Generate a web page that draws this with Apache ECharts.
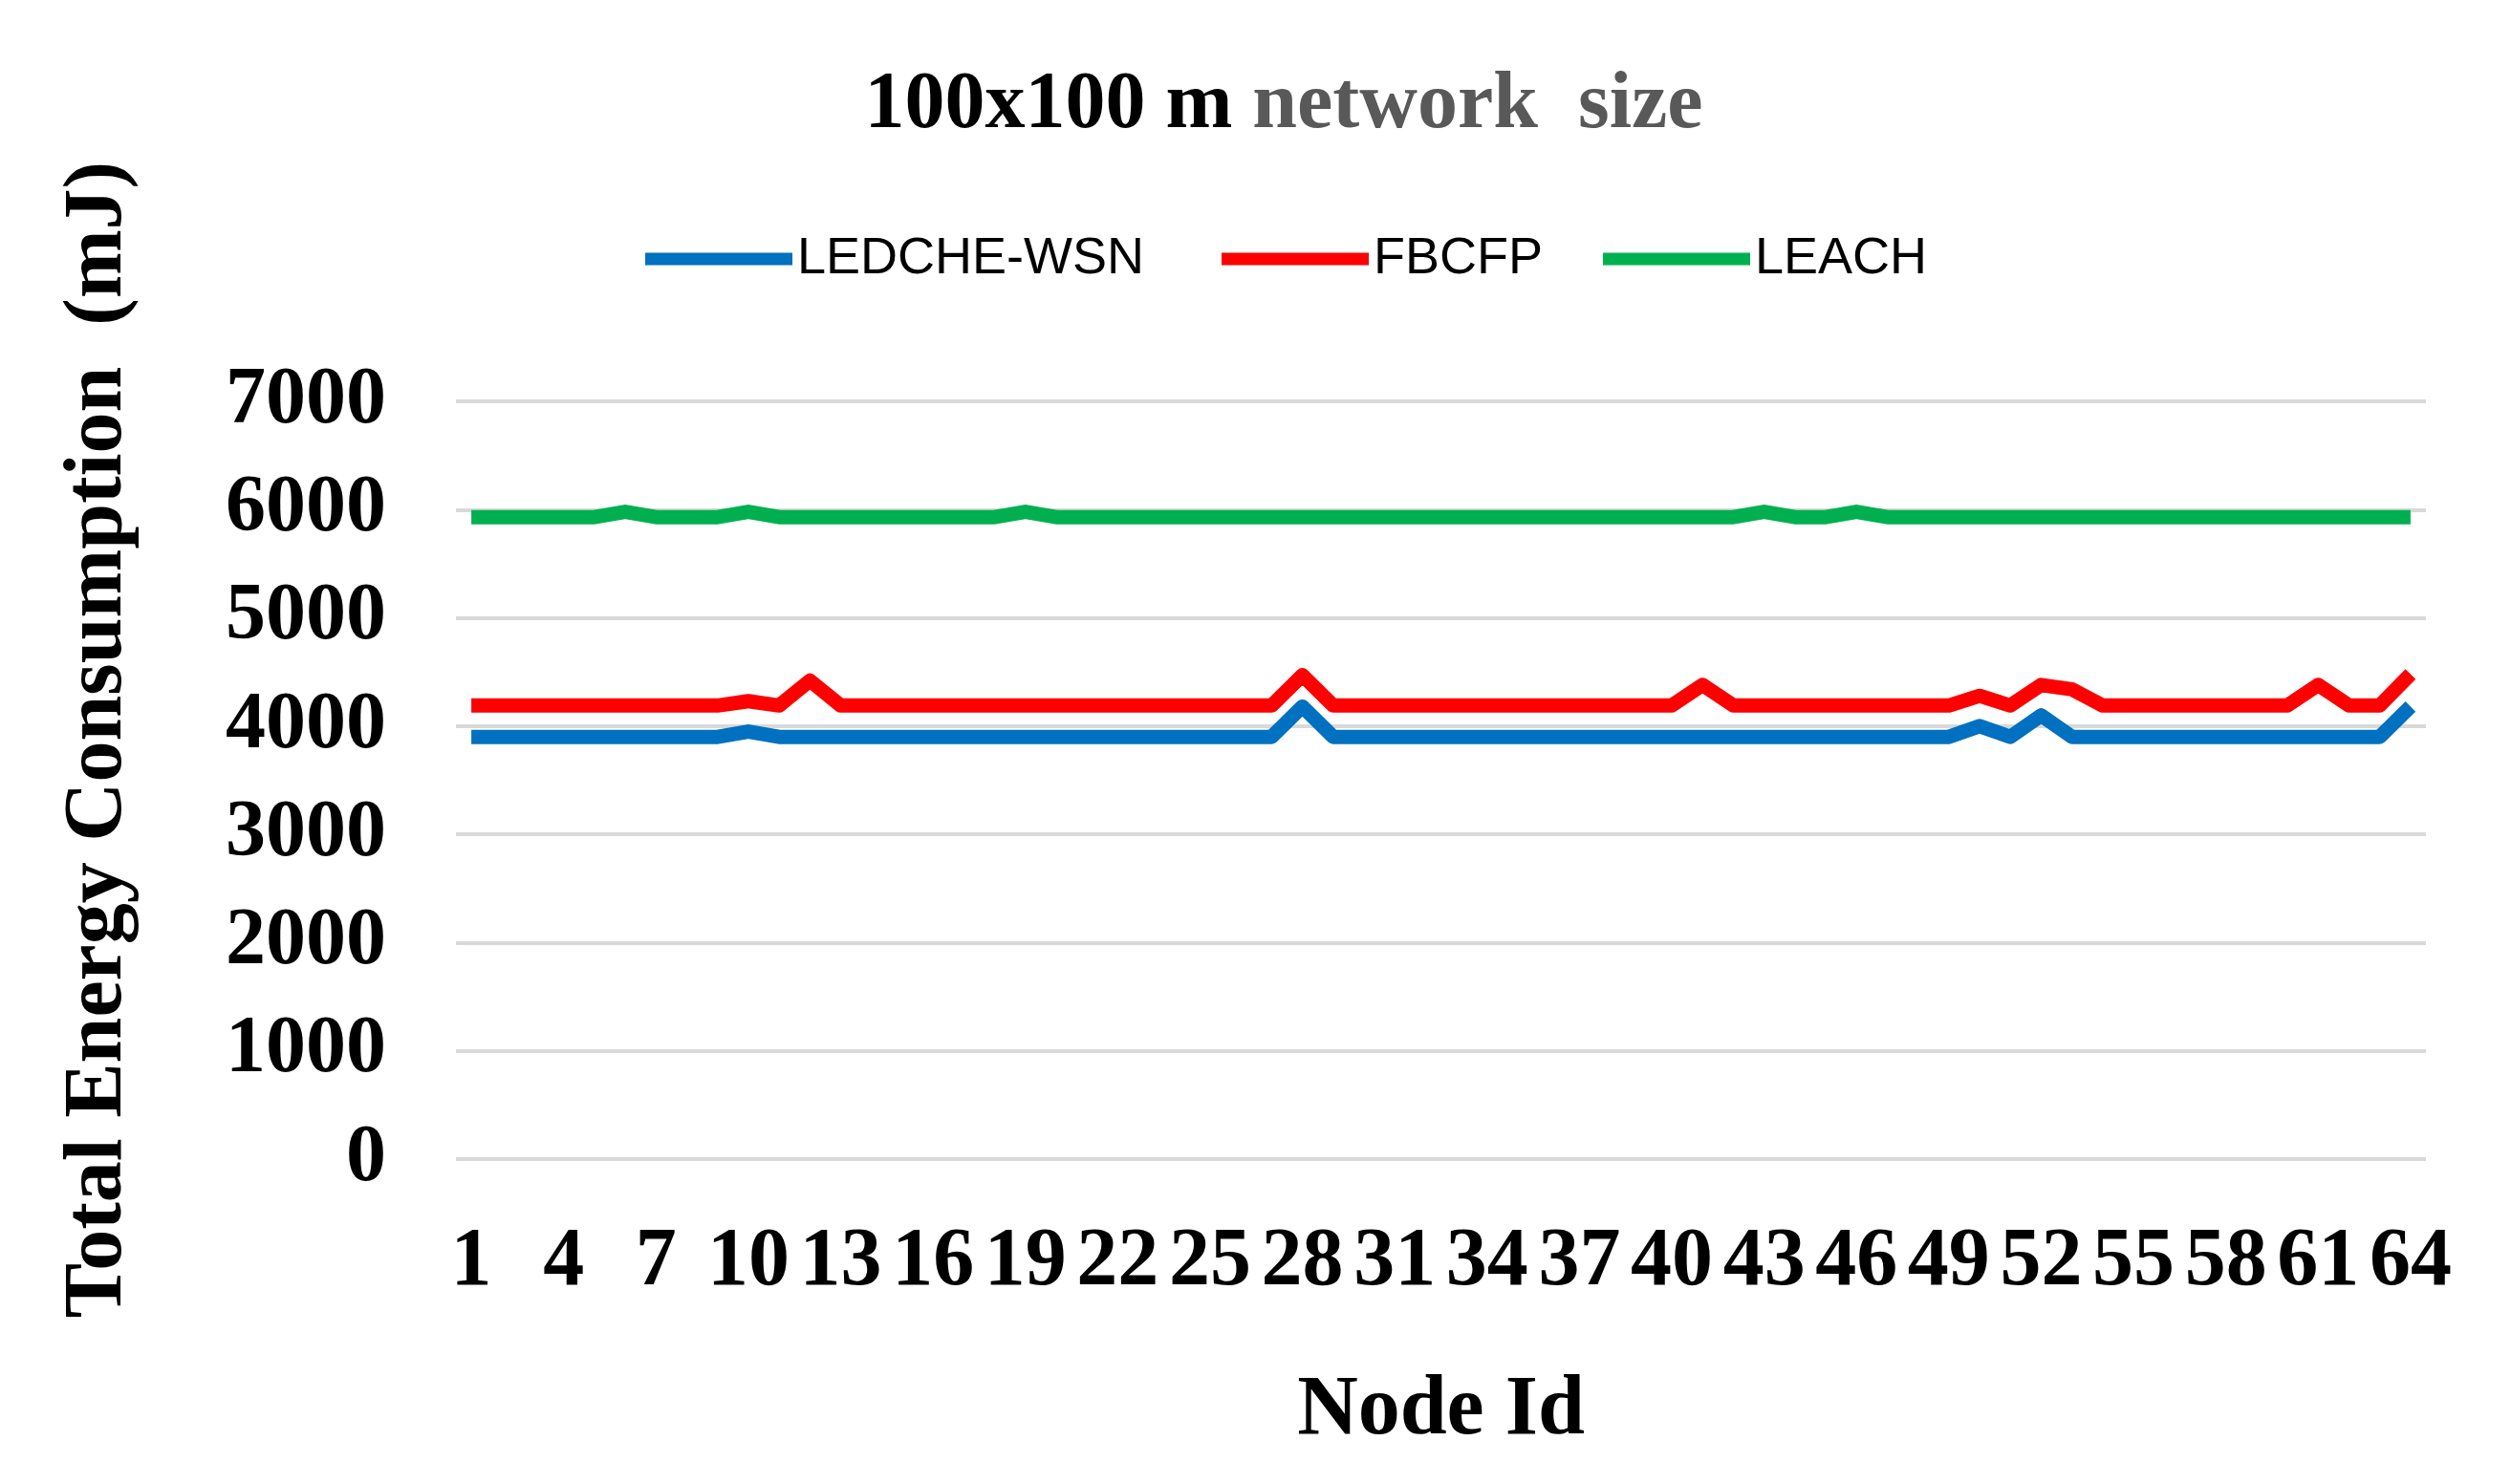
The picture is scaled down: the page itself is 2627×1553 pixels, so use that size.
<!DOCTYPE html>
<html>
<head>
<meta charset="utf-8">
<script src="https://cdn.jsdelivr.net/npm/echarts@6/dist/echarts.min.js"></script>
<style>
html,body{margin:0;padding:0;background:#fff;}
#chart{width:2627px;height:1553px;}
</style>
</head>
<body>
<div id="chart"></div>
<script>
// Node ids 1..64
const categories = [];
for (let i = 1; i <= 64; i++) categories.push(String(i));

const ledcheWsn = [
  3900,3900,3900,3900,3900,3900,3900,3900,3900,3950,
  3900,3900,3900,3900,3900,3900,3900,3900,3900,3900,
  3900,3900,3900,3900,3900,3900,3900,4180,3900,3900,
  3900,3900,3900,3900,3900,3900,3900,3900,3900,3900,
  3900,3900,3900,3900,3900,3900,3900,3900,3900,4000,
  3900,4100,3900,3900,3900,3900,3900,3900,3900,3900,
  3900,3900,3900,4180
];
const fbcfp = [
  4190,4190,4190,4190,4190,4190,4190,4190,4190,4230,
  4190,4420,4190,4190,4190,4190,4190,4190,4190,4190,
  4190,4190,4190,4190,4190,4190,4190,4470,4190,4190,
  4190,4190,4190,4190,4190,4190,4190,4190,4190,4190,
  4380,4190,4190,4190,4190,4190,4190,4190,4190,4280,
  4190,4380,4340,4190,4190,4190,4190,4190,4190,4190,
  4380,4190,4190,4480
];
const leach = [
  5930,5930,5930,5930,5930,5980,5930,5930,5930,5980,
  5930,5930,5930,5930,5930,5930,5930,5930,5980,5930,
  5930,5930,5930,5930,5930,5930,5930,5930,5930,5930,
  5930,5930,5930,5930,5930,5930,5930,5930,5930,5930,
  5930,5930,5980,5930,5930,5980,5930,5930,5930,5930,
  5930,5930,5930,5930,5930,5930,5930,5930,5930,5930,
  5930,5930,5930,5930
];
const seriesNames = ['LEDCHE-WSN', 'FBCFP', 'LEACH'];
const seriesColors = ['#0070C0', '#FF0000', '#00B050'];
const yTicks = [0, 1000, 2000, 3000, 4000, 5000, 6000, 7000];

const serif = "'Liberation Serif','Times New Roman',serif";
const chart = echarts.init(document.getElementById('chart'));

const legendLefts = [670, 1273, 1672];
const legendText = {
  fontFamily: "'Liberation Sans',Arial,sans-serif",
  fontSize: 54,
  color: '#000000'
};

const seriesData = [ledcheWsn, fbcfp, leach];
chart.setOption({
  animation: false,
  backgroundColor: '#ffffff',
  title: {
    left: 1338,
    top: 64,
    textAlign: 'center',
    text: '{a|100x100 m}{b| network  size}',
    textStyle: {
      rich: {
        a: { fontFamily: serif, fontWeight: 'bold', fontSize: 84, color: '#000000' },
        b: { fontFamily: serif, fontWeight: 'bold', fontSize: 84, color: '#595959' }
      }
    }
  },
  legend: seriesNames.map(function (name, i) {
    return {
      left: legendLefts[i],
      top: 271 - 32,
      itemWidth: 154,
      itemHeight: 13,
      icon: 'rect',
      data: [name],
      textStyle: legendText
    };
  }),
  grid: { left: 477, right: 89, top: 420, bottom: 340, containLabel: false },
  xAxis: {
    type: 'category',
    data: categories,
    boundaryGap: true,
    axisLine: { show: false },
    axisTick: { show: false },
    axisLabel: {
      interval: 2,
      margin: 66,
      fontFamily: serif,
      fontWeight: 'bold',
      fontSize: 86,
      lineHeight: 86,
      color: '#000000'
    },
    name: 'Node Id',
    nameLocation: 'middle',
    nameGap: 264,
    nameTextStyle: {
      fontFamily: serif,
      fontWeight: 'bold',
      fontSize: 88,
      color: '#000000',
      verticalAlign: 'middle'
    }
  },
  yAxis: {
    type: 'value',
    min: 0,
    max: 7000,
    interval: 1000,
    axisLine: { show: false },
    axisTick: { show: false },
    splitLine: { lineStyle: { color: '#d9d9d9', width: 4 } },
    axisLabel: {
      margin: 73,
      fontFamily: serif,
      fontWeight: 'bold',
      fontSize: 84,
      color: '#000000',
      formatter: function (v) { return yTicks.indexOf(v) >= 0 ? String(v) : ''; }
    }
  },
  graphic: [{
    type: 'text',
    x: 104,
    y: 774,
    rotation: Math.PI / 2,
    style: {
      text: 'Total Energy Consumption  (mJ)',
      font: "bold 86px 'Liberation Serif','Times New Roman',serif",
      fill: '#000000',
      align: 'center',
      verticalAlign: 'middle',
      textAlign: 'center',
      textVerticalAlign: 'middle'
    }
  }],
  series: seriesNames.map(function (name, i) {
    return {
      name: name,
      type: 'line',
      data: seriesData[i],
      showSymbol: false,
      symbol: 'none',
      smooth: false,
      z: 2 + i,
      itemStyle: { color: seriesColors[i] },
      lineStyle: { color: seriesColors[i], width: 15, join: 'round', cap: 'butt' }
    };
  })
});
</script>
</body>
</html>
